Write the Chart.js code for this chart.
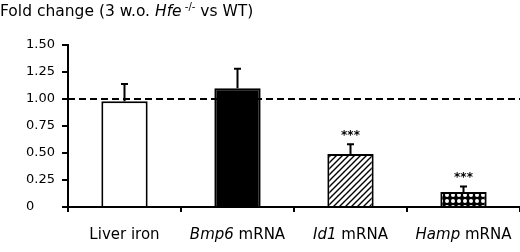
<!DOCTYPE html>
<html>
<head>
<meta charset="utf-8">
<script src="https://cdn.jsdelivr.net/npm/chart.js@4"></script>
<style>
  html, body { margin: 0; padding: 0; background: #fff; }
  #wrap { width: 520px; height: 252px; position: relative; }
</style>
</head>
<body>
<div id="wrap"><canvas id="c"></canvas></div>
<script>
// ── DATOS ──
var categorias = ['Liver iron', 'Bmp6 mRNA', 'Id1 mRNA', 'Hamp mRNA'];
var etiquetaItalica = ['', 'Bmp6', 'Id1', 'Hamp'];   // parte en cursiva de cada etiqueta
var etiquetaResto = ['Liver iron', ' mRNA', ' mRNA', ' mRNA'];
var valores = [0.98, 1.10, 0.49, 0.14];
var errorSup = [0.16, 0.18, 0.09, 0.05];
var signif = ['', '', '***', '***'];
var yTicks = [0, 0.25, 0.5, 0.75, 1.0, 1.25, 1.5];
var lineaRef = 1.0;

var FONT = '"DejaVu Sans", sans-serif';

// ── PATRONES ──
function patronRayado() {
    var c = document.createElement('canvas');
    c.width = 6; c.height = 6;
    var g = c.getContext('2d');
    g.fillStyle = '#fff'; g.fillRect(0, 0, 6, 6);
    g.strokeStyle = '#000'; g.lineWidth = 1.4;
    g.beginPath();
    g.moveTo(0, 6); g.lineTo(6, 0);
    g.moveTo(-3, 3); g.lineTo(3, -3);
    g.moveTo(3, 9); g.lineTo(9, 3);
    g.stroke();
    return g.createPattern(c, 'repeat');
}
function patronPuntos() {
    var c = document.createElement('canvas');
    c.width = 6; c.height = 6;
    var g = c.getContext('2d');
    g.fillStyle = '#000'; g.fillRect(0, 0, 6, 6);
    g.fillStyle = '#fff';
    g.beginPath(); g.arc(3, 3, 2.0, 0, Math.PI * 2); g.fill();
    return g.createPattern(c, 'repeat');
}

// ── PLUGIN: título, línea de referencia, barras de error, etiquetas ──
var extras = {
    id: 'extras',
    beforeDatasetsDraw: function(chart) {
        var ctx = chart.ctx, a = chart.chartArea, y = chart.scales.y;
        var py = y.getPixelForValue(lineaRef);
        ctx.save();
        ctx.strokeStyle = '#000'; ctx.lineWidth = 2;
        ctx.setLineDash([7, 4]);
        ctx.beginPath(); ctx.moveTo(a.left, py); ctx.lineTo(a.right, py); ctx.stroke();
        ctx.restore();
    },
    afterDatasetsDraw: function(chart) {
        var ctx = chart.ctx, x = chart.scales.x, y = chart.scales.y;
        ctx.save();
        ctx.strokeStyle = '#000'; ctx.lineWidth = 2;
        ctx.fillStyle = '#000';
        valores.forEach(function(v, i) {
            var px = x.getPixelForValue(i);
            var y0 = y.getPixelForValue(v);
            var y1 = y.getPixelForValue(v + errorSup[i]);
            ctx.beginPath();
            ctx.moveTo(px, y0); ctx.lineTo(px, y1);
            ctx.moveTo(px - 3.5, y1); ctx.lineTo(px + 3.5, y1);
            ctx.stroke();
            if (signif[i]) {
                ctx.font = 'bold 12px ' + FONT;
                ctx.textAlign = 'center'; ctx.textBaseline = 'alphabetic';
                ctx.fillText(signif[i], px, y1 - 5);
            }
        });

        // etiquetas de categoría (cursiva + normal)
        var ly = 239;
        ctx.textBaseline = 'alphabetic'; ctx.textAlign = 'left';
        categorias.forEach(function(c, i) {
            var px = x.getPixelForValue(i);
            var fi = 'italic 15px ' + FONT, fn = '15px ' + FONT;
            ctx.font = fi; var wi = ctx.measureText(etiquetaItalica[i]).width;
            ctx.font = fn; var wn = ctx.measureText(etiquetaResto[i]).width;
            var sx = px - (wi + wn) / 2;
            ctx.font = fi; ctx.fillText(etiquetaItalica[i], sx, ly);
            ctx.font = fn; ctx.fillText(etiquetaResto[i], sx + wi, ly);
        });

        // título
        var tx = 0, ty = 16;
        var partes = [
            ['15.5px ' + FONT, 'Fold change (3 w.o. ', 0],
            ['italic 15.5px ' + FONT, 'Hfe', 0],
            ['10px ' + FONT, ' -/-', -6],
            ['15.5px ' + FONT, ' vs WT)', 0]
        ];
        partes.forEach(function(p) {
            ctx.font = p[0];
            ctx.fillText(p[1], tx, ty + p[2]);
            tx += ctx.measureText(p[1]).width;
        });
        ctx.restore();
    }
};

var ctxEl = document.getElementById('c');
var chart = new Chart(ctxEl, {
    type: 'bar',
    data: {
        labels: categorias,
        datasets: [{
            data: valores,
            backgroundColor: ['#fff', '#000', patronRayado(), patronPuntos()],
            borderColor: '#000',
            borderWidth: 2,
            borderSkipped: 'bottom',
            categoryPercentage: 1,
            barPercentage: 0.41
        }]
    },
    options: {
        responsive: true, maintainAspectRatio: false,
        animation: false,
        layout: { padding: { top: 45, left: 26, right: 0, bottom: 0 } },
        plugins: { legend: { display: false }, tooltip: { enabled: false } },
        scales: {
            x: {
                grid: { drawOnChartArea: false, color: '#000', lineWidth: 2, tickLength: 5, offset: true },
                border: { color: '#000', width: 2 },
                ticks: { display: false },
                afterFit: function(s) { s.height = 45; }
            },
            y: {
                min: 0, max: 1.5,
                afterBuildTicks: function(s) { s.ticks = yTicks.map(function(v) { return { value: v }; }); },
                grid: { drawOnChartArea: false, color: '#000', lineWidth: 2, tickLength: 6 },
                border: { color: '#000', width: 2 },
                ticks: {
                    color: '#000', font: { family: FONT, size: 13 }, padding: 6,
                    crossAlign: 'far',
                    callback: function(v) { return v === 0 ? '0' : v.toFixed(2); }
                },
                afterFit: function(s) { s.width = 42; }
            }
        }
    },
    plugins: [extras]
});
</script>
</body>
</html>
